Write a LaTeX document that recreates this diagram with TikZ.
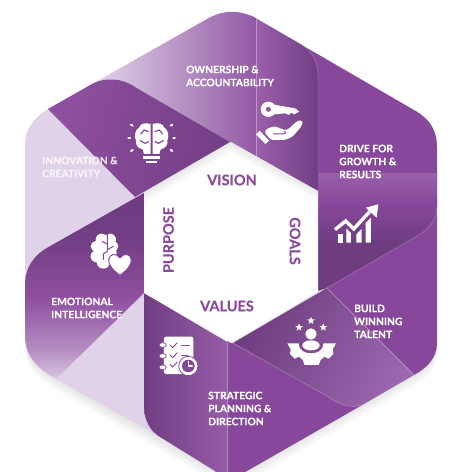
\documentclass[tikz,border=0pt]{standalone}
\usepackage{fontspec}
\setmainfont{Lato}[BoldFont={Lato Bold},BoldFeatures={FakeBold=0.25}]
\usetikzlibrary{calc}
\definecolor{base}{HTML}{87489B}
\definecolor{pale}{HTML}{E0D2E8}
\definecolor{dk}{HTML}{6F3C80}
\definecolor{mid}{HTML}{8E4F9F}
\definecolor{lt}{HTML}{B48CC2}
\definecolor{vlt}{HTML}{E6DCEC}
\definecolor{tp}{HTML}{9A60AA}
\definecolor{ink}{HTML}{8A4A9E}
\definecolor{low}{HTML}{D8C6E0}
\pgfdeclareverticalshading{emoshade}{100bp}{color(0bp)=(low);color(25bp)=(low);color(33bp)=(lt);color(47bp)=(mid);color(62bp)=(dk!85!mid);color(75bp)=(dk);color(100bp)=(dk)}
\pgfdeclareverticalshading{goalshade}{100bp}{color(0bp)=(dk);color(25bp)=(dk);color(45bp)=(dk);color(62bp)=(base);color(75bp)=(tp);color(100bp)=(tp)}
\tikzset{
  lab/.style={text=white,font=\bfseries\fontsize{10.3}{13}\selectfont,align=left,anchor=north west,inner sep=0pt},
  cen/.style={text=ink,font=\bfseries\fontsize{14.5}{16}\selectfont,inner sep=0pt},
  seam/.style={white,opacity=.35,line width=.4pt},
  ico/.style={white,line cap=round,line join=round},
  cut/.style={base,line cap=round,line join=round,line width=.9pt},
}
\newcommand{\pstar}[3]{\fill[white] ([shift={(#1,#2)}]-90:#3)
  \foreach \a/\r in {-54/.42,-18/1,18/.42,54/1,90/.42,126/1,162/.42,198/1,234/.42}{ -- ([shift={(#1,#2)}]\a:{\r*#3})} -- cycle;}
\begin{document}
\begin{tikzpicture}[x=1pt,y=-1pt]
\useasboundingbox (0,0) rectangle (468,472);
\clip (0,0) rectangle (468,472);
\fill[white] (0,0) rectangle (468,472);
% soft shadow
\foreach \i in {1,...,12}{
 \fill[black,opacity=.006,yshift=-\i pt] (48,109) -- (207,19) .. controls (222,10) and (240,9) .. (257,19) -- (414,110) .. controls (430,119) and (437,130) .. (437,148) -- (437,343) .. controls (437,358) and (427,368) .. (414,375) -- (247,471) .. controls (235,478) and (227,478) .. (215,471) -- (56,379) .. controls (40,370) and (25,358) .. (25,336) -- (25,145) .. controls (25,128) and (35,117) .. (48,109) -- cycle;
}
% pale left faces
\fill[pale] (48,109) .. controls (35,117) and (25,128) .. (25,145) -- (25,300) -- (60,300) -- (144,193) -- (135,197) -- cycle;
\fill[pale] (144,293) -- (150,420) -- (162,438) -- (56,379) -- cycle;
% emotional
\shade[shading=emoshade] (144,193) -- (144,293) -- (56,379) .. controls (40,370) and (25,358) .. (25,336) -- (25,285) .. controls (25,268) and (33,257) .. (45,249) -- cycle;
% ownership
\shade[left color=vlt,right color=base!75!lt,shading angle=90] (85,88) -- (207,19) .. controls (222,10) and (240,9) .. (256,18.5) -- (256,157) -- (230,142) -- (135,87) -- cycle;
% drive base
\fill[base] (250,15) -- (414,110) .. controls (430,119) and (437,130) .. (437,148) -- (437,190) -- (318,190) -- (300,60) -- cycle;
% ownership right
\shade[left color=tp,right color=dk!90!base,shading angle=90] (256,18.5) -- (302,45) .. controls (312,51) and (318,62) .. (318,75) -- (318,191) -- (256,157) -- cycle;
\draw[seam] (256,18.5) -- (256,157);
\draw[seam] (302,45) .. controls (312,51) and (318,62) .. (318,75) -- (318,172);
% innovation dark
\shade[left color=mid,right color=dk!80!base,shading angle=75] (48,109) -- (92,84) .. controls (105,77) and (122,78) .. (135,87) -- (230,142) -- (135,197) -- cycle;
% build base
\fill[base] (437,195) -- (437,343) .. controls (437,358) and (427,368) .. (414,375) -- (327,288) -- (417,225) -- cycle;
% goals
\shade[shading=goalshade] (318,173) -- (437,173) -- (437,207) .. controls (437,220) and (428,230) .. (417,236) -- (327,288) -- (318,291) -- cycle;
\draw[seam] (437,207) .. controls (437,220) and (428,230) .. (417,236) -- (327,288);
% strategic
\fill[base] (227,340) -- (330,396) -- (364,404) -- (247,471) .. controls (235,478) and (227,478) .. (215,471) -- cycle;
\shade[left color=dk!90!base,right color=base!70!lt,shading angle=90] (144,293) -- (227,342) -- (227,480) -- (215,471) -- (160,437) .. controls (150,431) and (144,420) .. (144,406) -- cycle;
\draw[seam] (227,342) -- (227,472);
% values
\shade[left color=dk,right color=base!55!lt,shading angle=62] (327,288) -- (414,375) -- (364,404) .. controls (352,410) and (338,404) .. (327,396) -- (233,343) -- cycle;
\draw[seam] (327,288) -- (414,375);
\draw[seam] (233,343) -- (327,396) .. controls (338,404) and (352,410) .. (364,404);
% inner hexagon
\fill[white] (231,142) -- (318,191) -- (318,291) -- (231,343) -- (144,293) -- (144,193) -- cycle;
\begin{scope}
\clip (231,142) -- (318,191) -- (318,291) -- (231,343) -- (144,293) -- (144,193) -- cycle;
\foreach \i in {1,...,11}{
 \fill[black,opacity=.006,even odd rule] (100,100) rectangle (360,360) [yshift=-\i pt] (231,142) -- (318,191) -- (318,360) -- (144,360) -- (144,193) -- cycle;
}
\end{scope}
% centre labels
\node[cen] (vision) at (232,180) {VISION};
\node[cen] (values) at (227,306) {VALUES};
\node[cen,rotate=90] (purpose) at (168.5,240) {PURPOSE};
\node[cen,rotate=-90] (goals) at (295,241) {GOALS};
% segment labels
\node[lab] (own) at (186,65.5) {OWNERSHIP \&\\ACCOUNTABILITY};
\node[lab] (drive) at (339,144.5) {DRIVE FOR\\GROWTH \&\\RESULTS};
\node[lab] (build) at (354,304.5) {BUILD\\WINNING\\TALENT};
\node[lab] (strat) at (208,391.5) {STRATEGIC\\PLANNING \&\\DIRECTION};
\node[lab] (emo) at (51,297.5) {EMOTIONAL\\INTELLIGENCE};
\node[lab,opacity=.8] (innov) at (42,156.5) {INNOVATION \&\\CREATIVITY};
% icon: brain bulb
\begin{scope}[shift={(120,110)},x=.3333pt,y=-.3333pt]
\foreach \s/\o in {1/0,-1/190}{
\begin{scope}[x={(\s*.3333pt,0pt)},shift={(\o*.3333pt,0pt)}]
\fill[white] (92,42) .. controls (75,36) and (60,42) .. (58,52) .. controls (45,58) and (42,80) .. (48,92) .. controls (45,105) and (55,115) .. (68,118) -- (72,132) -- (92,132) -- cycle;
\draw[cut,line width=1.2pt] (62,72) -- (72,60) -- (85,65);
\draw[cut,line width=1.2pt] (60,92) -- (75,100) -- (85,95);
\draw[ico,line width=2pt] (38,47) -- (33,44);
\draw[ico,line width=2pt] (30,83) -- (25,83);
\draw[ico,line width=2pt] (38,120) -- (33,123);
\end{scope}}
\fill[white] (70,138) rectangle (120,146);
\fill[white] (78,153) rectangle (112,160);
\end{scope}
% icon: key and hand
\begin{scope}[shift={(250,90)},x=.3333pt,y=-.3333pt]
\fill[white] (72,44) -- (135,55) -- (148,65) -- (132,73) -- (124,68) -- (116,75) -- (106,70) -- (72,73) -- cycle;
\fill[white,even odd rule] (55,58) circle [radius=23] (55,58) circle [radius=8];
\draw[ico,line width=5pt,line cap=butt] (24,128) -- (52,157);
\fill[white,rounded corners=3pt] (42,124) .. controls (58,112) and (72,108) .. (88,114) -- (110,122) -- (142,92) -- (158,90) -- (157,106) -- (128,140) -- (106,150) -- (62,150) -- cycle;
\draw[cut,line width=1pt] (70,132) -- (100,132) .. controls (108,132) and (110,126) .. (104,124);
\end{scope}
% icon: chart
\begin{scope}[shift={(325,195)},x=.3333pt,y=-.3333pt]
\draw[ico,line width=3.4pt,line cap=butt,line join=miter] (30,104) -- (62,78) -- (86,102) -- (134,50);
\fill[white] (122,38) -- (160,28) -- (155,68) -- cycle;
\fill[white] (38,116) rectangle (54,143);
\fill[white] (64,100) -- (78,114) -- (78,143) -- (64,143) -- cycle;
\fill[white] (94,118) -- (110,102) -- (110,143) -- (94,143) -- cycle;
\fill[white] (122,84) -- (138,68) -- (138,143) -- (122,143) -- cycle;
\end{scope}
% icon: gear and person
\begin{scope}[shift={(280,310)},x=.3333pt,y=-.3333pt]
\pstar{93}{32}{12}
\pstar{57}{52}{12}
\pstar{130}{52}{12}
\fill[white] (93,72) circle [radius=17];
\fill[white] (93,106) ellipse [x radius=26,y radius=15];
\fill[white] (22,100) -- (56,100) .. controls (56,122) and (75,130) .. (93,130) .. controls (112,130) and (130,122) .. (130,100) -- (168,100) -- (158,118) -- (160,132) -- (146,146) -- (133,140) -- (122,150) -- (116,165) -- (74,165) -- (68,150) -- (57,140) -- (44,146) -- (30,132) -- (32,118) -- cycle;
\end{scope}
% icon: checklist
\begin{scope}[shift={(150,330)},x=.3333pt,y=-.3333pt]
\fill[white,rounded corners=2pt] (42,20) rectangle (130,132);
\foreach \y in {45,78,112}{\filldraw[white,draw=base,line width=.7pt] (38,\y) ellipse [x radius=11,y radius=7];}
\draw[cut] (60,45) -- (68,53) -- (82,38);
\draw[cut] (60,75) -- (68,83) -- (82,68);
\draw[cut] (60,103) -- (68,111) -- (82,96);
\draw[cut] (95,45) -- (118,45);
\draw[cut] (95,75) -- (112,75);
\filldraw[white,draw=base,line width=.8pt] (115,108) circle [radius=29];
\fill[base] (115,108) circle [radius=19];
\draw[white,line width=1.1pt,line cap=round,line join=round] (115,94) -- (115,108) -- (127,108);
\end{scope}
% icon: brain and heart
\begin{scope}[shift={(80,228)},x=.3333pt,y=-.3333pt]
\foreach \cx/\cy/\r in {65/35/18,48/55/16,50/85/18,70/102/20,90/35/18,100/55/15,70/60/22,90/75/20}{\fill[white] (\cx,\cy) circle [radius=\r];}
\draw[cut,line width=1pt] (82,18) -- (82,70) -- (70,78) -- (70,95);
\draw[cut,line width=1pt] (82,48) -- (66,40);
\draw[cut,line width=1pt] (82,65) -- (100,55);
\filldraw[white,draw=base,line width=1pt] (120,142) .. controls (100,127) and (85,112) .. (86,95) .. controls (88,76) and (110,74) .. (120,90) .. controls (130,74) and (152,76) .. (154,95) .. controls (155,112) and (140,127) .. (120,142) -- cycle;
\end{scope}
\end{tikzpicture}
\end{document}
